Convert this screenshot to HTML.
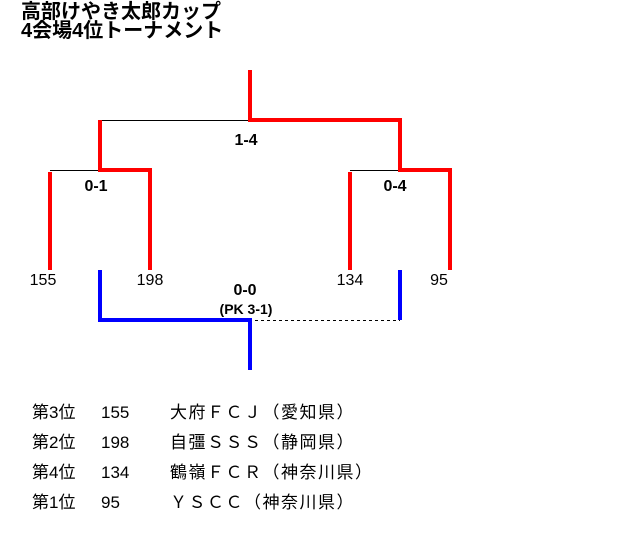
<!DOCTYPE html>
<html><head><meta charset="utf-8"><style>
body{margin:0;background:#fff;width:640px;height:550px;overflow:hidden;position:relative;font-family:"Liberation Sans","Noto Sans CJK JP",sans-serif;}
.t{position:absolute;font-size:20px;font-weight:bold;line-height:19px;left:21px;color:#000}
.l{position:absolute;font-size:17px;line-height:20px;height:20px;white-space:nowrap}
.n{letter-spacing:1.5px}
</style></head><body>
<div class="t" style="top:3px">高部けやき太郎カップ<br>4会場4位トーナメント</div>
<svg width="640" height="550" style="position:absolute;left:0;top:0">
<g stroke="#000" stroke-width="1" fill="none">
<line x1="100" y1="120.5" x2="249" y2="120.5"/>
<line x1="50" y1="170.5" x2="100" y2="170.5"/>
<line x1="350" y1="170.5" x2="400" y2="170.5"/>
<line x1="249" y1="320.5" x2="400" y2="320.5" stroke-dasharray="3,3"/>
</g>
<g stroke="#f00" stroke-width="4" fill="none">
<polyline points="250,70 250,120 400,120 400,170 450,170 450,270"/>
<polyline points="100,120 100,170 150,170 150,270"/>
<line x1="50" y1="172" x2="50" y2="270"/>
<line x1="350" y1="172" x2="350" y2="270"/>
</g>
<g stroke="#00f" stroke-width="4" fill="none">
<polyline points="100,270 100,320 250,320 250,370"/>
<line x1="400" y1="270" x2="400" y2="320"/>
</g>
<g font-family="Liberation Sans, sans-serif" font-size="16" text-anchor="middle" fill="#000">
<text x="246" y="145" font-weight="bold">1-4</text>
<text x="96" y="191" font-weight="bold">0-1</text>
<text x="395" y="191" font-weight="bold">0-4</text>
<text x="43" y="285">155</text>
<text x="150" y="285">198</text>
<text x="350" y="285">134</text>
<text x="439" y="285">95</text>
<text x="245" y="295" font-weight="bold">0-0</text>
<text x="246" y="314" font-size="14" font-weight="bold">(PK 3-1)</text>
</g>
</svg>
<div class="l" style="left:32px;top:403px">第3位</div><div class="l" style="left:101px;top:403px">155</div><div class="l n" style="left:170px;top:403px">大府ＦＣＪ（愛知県）</div>
<div class="l" style="left:32px;top:433px">第2位</div><div class="l" style="left:101px;top:433px">198</div><div class="l n" style="left:170px;top:433px">自彊ＳＳＳ（静岡県）</div>
<div class="l" style="left:32px;top:463px">第4位</div><div class="l" style="left:101px;top:463px">134</div><div class="l n" style="left:170px;top:463px">鶴嶺ＦＣＲ（神奈川県）</div>
<div class="l" style="left:32px;top:493px">第1位</div><div class="l" style="left:101px;top:493px">95</div><div class="l n" style="left:170px;top:493px">ＹＳＣＣ（神奈川県）</div>
</body></html>
